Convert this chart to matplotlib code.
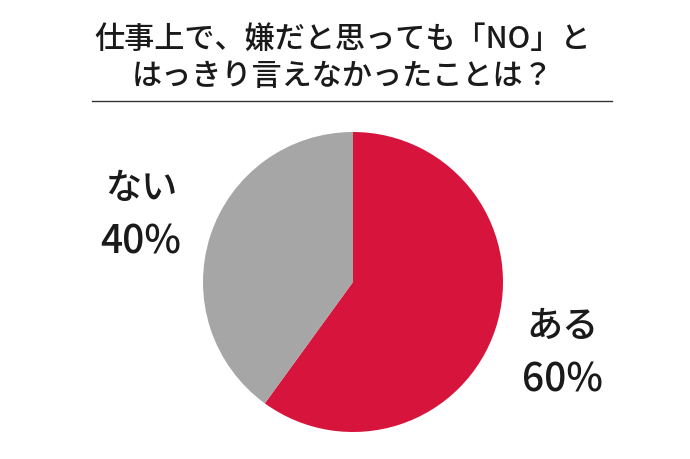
import matplotlib.pyplot as plt

plt.rcParams['font.family'] = ['Noto Sans CJK JP', 'DejaVu Sans']

# Data
labels = ['ある', 'ない']
values = [60, 40]
colors = ['#D7143C', '#A6A6A6']
title_lines = ['仕事上で、嫌だと思っても「NO」と', 'はっきり言えなかったことは？']

W, H = 690, 460
fig = plt.figure(figsize=(W / 100, H / 100), dpi=100)
ax = fig.add_axes([0, 0, 1, 1])

# pie, drawn clockwise from the top
ax.pie(values, colors=colors, startangle=90, counterclock=False,
       center=(353, H - 283), radius=150,
       wedgeprops=dict(linewidth=0))
ax.set_xlim(0, W)
ax.set_ylim(0, H)
ax.set_aspect('equal')
ax.axis('off')

# title and rule
ax.text(W / 2 - 2, H - 39, title_lines[0], ha='center', va='center',
        fontsize=21.7, fontweight='medium', color='#1a1a1a')
ax.text(W / 2 - 2, H - 77, title_lines[1], ha='center', va='center',
        fontsize=21.7, fontweight='medium', color='#1a1a1a')
ax.plot([92, 612], [H - 102, H - 102], color='#333333', linewidth=1)

# slice labels
ax.text(141, H - 189, labels[1], ha='center', va='center',
        fontsize=26, fontweight='medium', color='#1a1a1a')
ax.text(141, H - 243, f'{values[1]}%', ha='center', va='center',
        fontsize=28, fontweight='medium', color='#1a1a1a')
ax.text(562, H - 327, labels[0], ha='center', va='center',
        fontsize=26, fontweight='medium', color='#1a1a1a')
ax.text(562, H - 381, f'{values[0]}%', ha='center', va='center',
        fontsize=28, fontweight='medium', color='#1a1a1a')

fig.savefig('out.png', dpi=100)
